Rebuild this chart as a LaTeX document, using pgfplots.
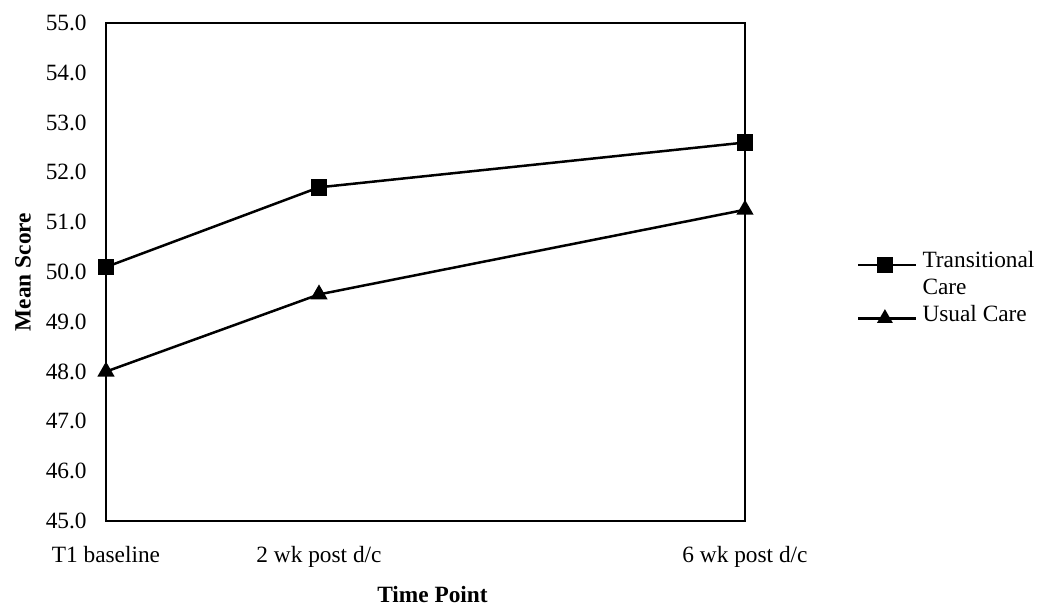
\documentclass[border=0pt]{standalone}
\usepackage{fontspec}
\setmainfont{Liberation Serif}
\usepackage{pgfplots}
\pgfplotsset{compat=1.18}
\begin{document}
\begin{tikzpicture}
\path[use as bounding box] (-63.6pt,-51.6pt) rectangle (561.6pt,312.6pt);
\begin{axis}[
  at={(0,0)}, anchor=south west,
  scale only axis,
  width=383.4pt, height=298.8pt,
  xmin=0, xmax=6, ymin=45, ymax=55,
  clip=false,
  axis line style={line width=1.2pt},
  major tick length=0pt,
  xtick={0,2,6},
  xticklabels={T1 baseline, 2 wk post d/c, 6 wk post d/c},
  ytick={45,46,...,55},
  /pgf/number format/assume math mode=true,
  yticklabel={\pgfmathprintnumber[fixed,fixed zerofill,precision=1]{\tick}},
  tick label style={font=\fontsize{14}{16}\selectfont},
  yticklabel style={inner sep=0pt, anchor=east, xshift=-11.4pt},
  xticklabel style={inner sep=0pt, anchor=base, yshift=-25pt},
  xlabel={\textbf{Time Point}},
  ylabel={\textbf{Mean Score}},
  label style={font=\fontsize{14}{16}\selectfont},
  xlabel style={at={(axis description cs:0.511,-0.163)}, anchor=base, inner sep=0pt},
  ylabel style={at={(axis description cs:-0.130,0.50)}, anchor=center, inner sep=0pt},
  legend style={draw=none, fill=none, inner sep=0pt, outer sep=0pt,
    at={(axis description cs:1.1753,0.5415)}, anchor=north west,
    font=\fontsize{14}{16}\selectfont,
    nodes={inner sep=0pt, text height=10pt, text depth=22pt},
    row sep=0pt, column sep=3pt},
  legend cell align=left,
  legend image code/.code={
    \draw[line width=1.5pt] (0pt,7.8pt) -- (34.8pt,7.8pt);
    \draw[#1, line width=1pt] plot coordinates {(16pt,7.8pt)};
  },
]
\addplot[black, line width=1.5pt, mark=square*, mark size=4.2pt, mark options={solid, fill=black}]
  coordinates {(0,50.1) (2,51.7) (6,52.6)};
\addlegendentry{\rlap{\raisebox{-16pt}[0pt][0pt]{Care}}Transitional}
\addplot[black, line width=1.5pt, mark=triangle*, mark size=4.5pt, mark options={solid, fill=black}]
  coordinates {(0,48.0) (2,49.55) (6,51.25)};
\addlegendentry{Usual Care}
\end{axis}
\end{tikzpicture}
\end{document}
